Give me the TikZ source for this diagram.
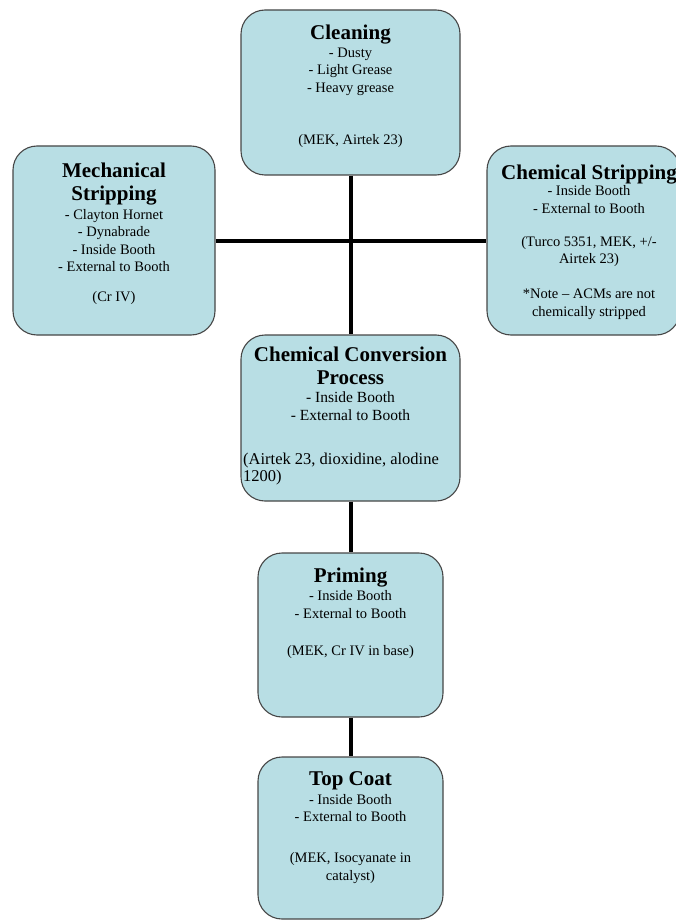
\documentclass[tikz,border=0pt]{standalone}
\usepackage{fontspec}
\setmainfont{Liberation Serif}
\definecolor{boxfill}{RGB}{184,222,228}
\definecolor{boxline}{RGB}{70,70,70}
\newcommand\stagetitle{\fontsize{21}{23}\selectfont\bfseries}
\begin{document}
\begin{tikzpicture}[x=1pt,y=-1pt,
  stage/.style={draw=boxline, fill=boxfill, line width=1.1pt, rounded corners=24pt, inner sep=0pt},
  body/.style={align=center, inner sep=0pt, anchor=north, font=\fontsize{14.5}{17.5}\selectfont},
  link/.style={line width=4pt, draw=black}]
\clip (0,0) rectangle (676,920);
% boxes
\node[stage, minimum width=219pt, minimum height=165pt] (clean) at (350.5,92.5) {};
\node[stage, minimum width=202pt, minimum height=189pt] (mech) at (114,240.5) {};
\node[stage, minimum width=193pt, minimum height=189pt] (chem) at (583.5,240.5) {};
\node[stage, minimum width=219pt, minimum height=166pt] (conv) at (350.5,418) {};
\node[stage, minimum width=185pt, minimum height=164pt] (prime) at (350.5,635) {};
\node[stage, minimum width=185pt, minimum height=162pt] (top) at (350.5,838) {};
% connectors
\draw[link] (clean.south) -- (conv.north);
\draw[link] (mech.east) -- (chem.west);
\draw[link] (conv.south) -- (prime.north);
\draw[link] (prime.south) -- (top.north);
% texts
\node[body] (cleanT) at (350.5,24.5) {{\stagetitle Cleaning}\\[0.5pt] - Dusty\\ - Light Grease\\ - Heavy grease\\[35pt] (MEK, Airtek 23)};
\node[body] (mechT) at (114,162.5) {{\stagetitle Mechanical}\\[5.5pt]{\stagetitle Stripping}\\[1.5pt] - Clayton Hornet\\ - Dynabrade\\ - Inside Booth\\ - External to Booth\\[12.5pt] (Cr IV)};
\node[body] (chemT) at (589,165) {{\stagetitle Chemical Stripping}\\[-1.5pt] - Inside Booth\\ - External to Booth\\[15.5pt] (Turco 5351, MEK, +/-\\ Airtek 23)\\[17.5pt] *Note -- ACMs are not\\ chemically stripped};
\node[body, font=\fontsize{15.5}{18}\selectfont] (convT) at (350.5,346.5) {{\stagetitle Chemical Conversion}\\[5pt]{\stagetitle Process}\\[0pt] - Inside Booth\\ - External to Booth};
\node[body, align=left, anchor=north west, font=\fontsize{16.5}{17}\selectfont] (convN) at (243,453) {(Airtek 23, dioxidine, alodine\\ 1200)};
\node[body] (primeT) at (350.5,568) {{\stagetitle Priming}\\[0.5pt] - Inside Booth\\ - External to Booth\\[19.5pt] (MEK, Cr IV in base)};
\node[body] (topT) at (350.5,771) {{\stagetitle Top Coat}\\[1.5pt] - Inside Booth\\ - External to Booth\\[23.5pt] (MEK, Isocyanate in\\ catalyst)};
\end{tikzpicture}
\end{document}
